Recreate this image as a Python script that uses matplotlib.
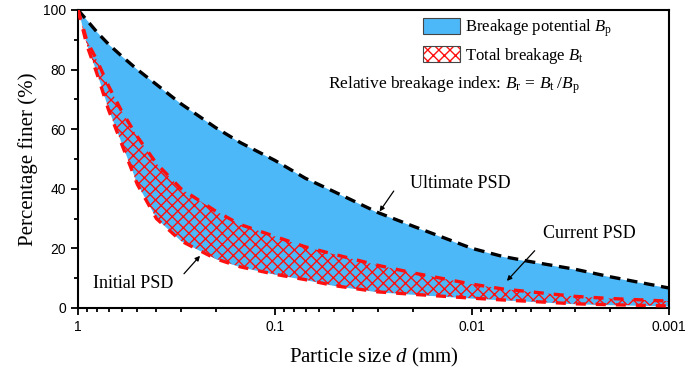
import numpy as np
import matplotlib
matplotlib.use("Agg")
import matplotlib.pyplot as plt
from matplotlib.patches import Patch
from matplotlib.ticker import FixedLocator, FuncFormatter, LogLocator, MultipleLocator

plt.rcParams['font.family'] = ['Liberation Serif', 'DejaVu Serif']
plt.rcParams['mathtext.fontset'] = 'custom'
plt.rcParams['mathtext.rm'] = 'Liberation Serif'
plt.rcParams['mathtext.it'] = 'Liberation Serif:italic'
plt.rcParams['hatch.linewidth'] = 1.0

# particle size (mm) and percentage finer for each grading curve
size_mm = [1, 0.9, 0.8, 0.7, 0.6, 0.5, 0.4, 0.3, 0.2, 0.15, 0.1, 0.07, 0.05,
           0.03, 0.02, 0.01, 0.007, 0.005, 0.003, 0.002, 0.001]
ultimate = [100, 96.5, 92.5, 88.5, 84.5, 80, 75, 68.5, 60.5, 55.5, 49.5, 43.5,
            39, 32, 27.5, 20, 17.3, 15.5, 13, 10.5, 6.7]
current = [100, 89.5, 83, 74.5, 66, 57.5, 48.5, 40, 32.5, 28, 24, 20.5, 18,
           14.3, 11.8, 8, 6.4, 5.4, 3.9, 3.2, 2.3]
initial = [100, 88, 78.5, 66.5, 55, 41.5, 30, 22.5, 16.5, 13.8, 11.3, 9.5, 7.5,
           5.4, 4.6, 3.3, 2.7, 2.2, 1.4, 1.1, 0.7]
xtick_vals = [1, 0.1, 0.01, 0.001]

blue = '#4db8f7'
red = '#ff1010'

fig = plt.figure(figsize=(6.86, 3.74), dpi=100)
ax = fig.add_axes([0.1137, 0.1765, 0.8615, 0.797])

ax.fill_between(size_mm, ultimate, initial, color=blue, lw=0, zorder=1)
ax.fill_between(size_mm, current, initial, facecolor='none', edgecolor=red,
                hatch='xxx', lw=0, zorder=2)
ax.plot(size_mm, ultimate, color='black', lw=2.4, dashes=(3.2, 2), zorder=3)
ax.plot(size_mm, current, color=red, lw=2.4, dashes=(3, 3), zorder=3)
ax.plot(size_mm, initial, color=red, lw=2.4, dashes=(3, 3), zorder=3)

ax.set_xscale('log')
ax.set_xlim(1, 0.001)
ax.set_ylim(0, 100)
ax.xaxis.set_major_locator(FixedLocator(xtick_vals))
ax.xaxis.set_major_formatter(FuncFormatter(lambda v, p: '%g' % v))
ax.xaxis.set_minor_locator(LogLocator(base=10, subs=np.arange(2, 10)))
ax.yaxis.set_major_locator(MultipleLocator(20))
ax.yaxis.set_minor_locator(MultipleLocator(10))
ax.tick_params(which='both', direction='out', width=1.3, labelsize=10)
ax.tick_params(which='major', length=5)
ax.tick_params(which='minor', length=3)
for lab in ax.get_xticklabels() + ax.get_yticklabels():
    lab.set_fontfamily('Liberation Sans')
for sp in ax.spines.values():
    sp.set_linewidth(1.5)

ax.set_xlabel(r'Particle size $d$ (mm)', fontsize=15, labelpad=9)
ax.set_ylabel('Percentage finer (%)', fontsize=15, labelpad=4)

# legend
h1 = Patch(facecolor=blue, edgecolor='#444444', lw=0.8)
h2 = (Patch(facecolor='white', edgecolor=red, hatch='xxx', lw=0),
      Patch(facecolor='none', edgecolor='#444444', lw=0.8))
ax.legend([h1, h2], [r'Breakage potential $B_{\mathrm{p}}$', r'Total breakage $B_{\mathrm{t}}$'],
          loc='upper left', bbox_to_anchor=(0.584, 0.975), frameon=False,
          fontsize=12, borderpad=0, borderaxespad=0, handlelength=2.2,
          handleheight=1.1, handletextpad=0.3, labelspacing=0.4)

ax.text(0.423, 0.747,
        r'Relative breakage index: $B_{\mathrm{r}}\,=\,B_{\mathrm{t}}\;/B_{\mathrm{p}}$',
        transform=ax.transAxes, fontsize=12.5, va='center', ha='left')

# curve labels with arrows
arrow = dict(arrowstyle='-|>', color='black', lw=0.9, mutation_scale=7)
ax.text(0.0206, 41.8, 'Ultimate PSD', fontsize=13, va='center', ha='left')
ax.annotate('', xy=(0.030, 31.6), xytext=(0.0245, 40.0), arrowprops=arrow)
ax.text(0.00436, 24.9, 'Current PSD', fontsize=13, va='center', ha='left')
ax.annotate('', xy=(0.0068, 8.4), xytext=(0.0047, 19.9), arrowprops=arrow)
ax.text(0.84, 8.1, 'Initial PSD', fontsize=13, va='center', ha='left')
ax.annotate('', xy=(0.235, 18.2), xytext=(0.296, 10.8), arrowprops=arrow)

fig.savefig('out.png', dpi=100)
